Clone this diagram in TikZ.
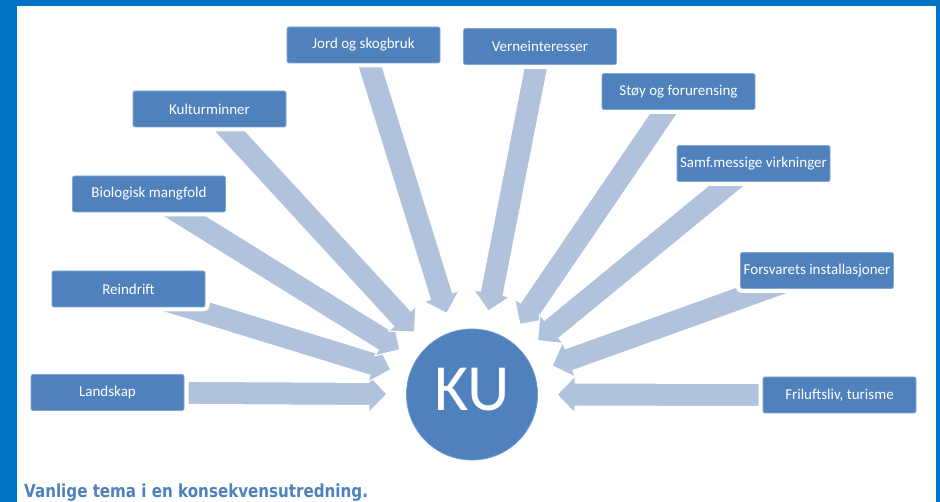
\documentclass[tikz,border=0pt]{standalone}
\usepackage{fontspec}
\setmainfont{Carlito}
\newfontfamily\capfont{DejaVu Sans}
\usepackage{tikz}
\usetikzlibrary{calc}
\definecolor{kublue}{HTML}{4F81BD}
\definecolor{pilblue}{HTML}{B1C2DD}
\definecolor{rammeblue}{HTML}{0072C6}
\tikzset{tema/.style={
    rectangle, rounded corners=2pt, fill=kublue, draw=kublue!70!white, line width=0.8pt,
    minimum width=153pt, minimum height=36pt, inner sep=0pt,
    text=white, font=\fontsize{15}{17}\selectfont,
    preaction={draw=white, line width=9pt}
}}
\tikzset{temapil/.style={fill=pilblue, draw=white, line width=1pt}}
\newcommand{\kupil}[1]{%
  \coordinate (tip) at ($(ku.center)!85pt!(#1.center)$);
  \coordinate (neck) at ($(tip)!18pt!(#1.center)$);
  \filldraw[temapil] ($(#1.center)!11.5pt!90:(tip)$) -- ($(neck)!11.5pt!90:(tip)$)
    -- ($(neck)!18.5pt!90:(tip)$) -- (tip) -- ($(neck)!18.5pt!-90:(tip)$)
    -- ($(neck)!11.5pt!-90:(tip)$) -- ($(#1.center)!11.5pt!-90:(tip)$) -- cycle;
}

\begin{document}
\begin{tikzpicture}[x=1pt, y=-1pt]
\useasboundingbox (0,0) rectangle (940,502);

%ramme
\fill[rammeblue] (0,0) rectangle (940,502);
\fill[white] (17,6) rectangle (936,502);

%KU
\node[circle, fill=kublue, draw=kublue!80!white, line width=0.8pt, minimum size=131pt, inner sep=0pt] (ku) at (472,394.5) {};
\node[text=white, font=\fontsize{66}{70}\selectfont] (kutekst) at (472,390) {KU};

%tema (plassering)
\coordinate (jord) at (363.5,45);
\coordinate (verne) at (540,46.5);
\coordinate (kultur) at (209.5,109);
\coordinate (stoy) at (678.5,91.5);
\coordinate (samf) at (753.5,163.5);
\coordinate (bio) at (149,194);
\coordinate (forsv) at (817,270.5);
\coordinate (rein) at (128.5,289);
\coordinate (land) at (107.5,392.5);
\coordinate (fril) at (839.5,395);

%piler
\kupil{land}
\kupil{rein}
\kupil{bio}
\kupil{kultur}
\kupil{jord}
\kupil{verne}
\kupil{stoy}
\kupil{samf}
\kupil{forsv}
\kupil{fril}

%bokser
\node[tema] (jordboks) at (jord) {Jord og skogbruk};
\node[tema] (verneboks) at (verne) {Verneinteresser};
\node[tema] (kulturboks) at (kultur) {Kulturminner};
\node[tema] (stoyboks) at (stoy) {Støy og forurensing};
\node[tema] (samfboks) at (samf) {Samf.messige virkninger};
\node[tema] (bioboks) at (bio) {Biologisk mangfold};
\node[tema] (forsvboks) at (forsv) {Forsvarets installasjoner};
\node[tema] (reinboks) at (rein) {Reindrift};
\node[tema] (landboks) at (land) {Landskap};
\node[tema] (frilboks) at (fril) {Friluftsliv, turisme};

%tekst
\node[anchor=base west, inner sep=0pt, text=kublue, font=\capfont\bfseries\fontsize{18}{20}\selectfont] (tekst) at (24,497)
  {\scalebox{0.84}[1]{Vanlige tema i en konsekvensutredning.}};

\end{tikzpicture}
\end{document}
